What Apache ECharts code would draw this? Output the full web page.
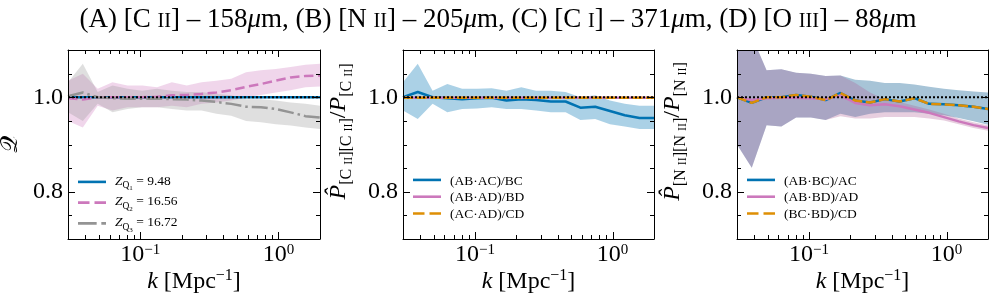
<!DOCTYPE html>
<html>
<head>
<meta charset="utf-8">
<script src="https://cdn.jsdelivr.net/npm/echarts@6/dist/echarts.min.js"></script>
<style>html,body{margin:0;padding:0;background:#fff}#chart{width:996px;height:307px}</style>
</head>
<body>
<div id="chart"></div>
<script>
// ---------------- data ----------------
const kBins = [0.0300, 0.0384, 0.0492, 0.0630, 0.0807, 0.1033, 0.1323, 0.1694, 0.2170,
               0.2779, 0.3558, 0.4557, 0.5836, 0.7473, 0.9570, 1.2255, 1.5694, 2.0000];

// Panel A : Q
const p1Blue   = [1.000,1.000,1.000,1.000,1.000,1.000,1.000,1.000,1.000,1.000,1.000,1.000,1.000,1.000,1.000,1.000,1.000,1.000];
const p1Pink   = [0.998,0.995,1.000,1.000,1.000,1.000,1.001,1.004,1.005,1.007,1.010,1.015,1.022,1.028,1.035,1.042,1.045,1.046];
const p1PinkLo = [0.950,0.936,0.982,0.972,0.979,0.979,0.979,0.982,0.979,0.986,0.989,0.993,1.000,1.005,1.010,1.015,1.021,1.023];
const p1PinkHi = [1.035,1.050,1.018,1.032,1.025,1.025,1.021,1.032,1.025,1.032,1.035,1.039,1.053,1.057,1.060,1.064,1.069,1.071];
const p1Grey   = [1.002,1.010,1.000,0.998,0.997,0.997,0.997,0.996,0.995,0.993,0.990,0.986,0.980,0.979,0.975,0.968,0.960,0.957];
const p1GreyLo = [0.968,0.950,0.986,0.968,0.975,0.979,0.979,0.975,0.972,0.972,0.965,0.961,0.950,0.947,0.943,0.940,0.936,0.933];
const p1GreyHi = [1.032,1.071,1.011,1.025,1.018,1.014,1.018,1.014,1.011,1.011,1.007,1.004,0.996,0.996,0.993,0.989,0.986,0.982];

// Panel B : P[CII][CII]/P[CII]
const p2Blue   = [1.000,1.011,1.000,0.998,0.996,0.998,0.999,0.993,0.996,0.994,0.991,0.991,0.978,0.980,0.971,0.962,0.956,0.956];
const p2BlueLo = [0.972,0.954,0.986,0.968,0.975,0.976,0.979,0.975,0.975,0.972,0.968,0.968,0.952,0.954,0.943,0.938,0.933,0.933];
const p2BlueHi = [1.032,1.071,1.014,1.028,1.018,1.018,1.019,1.014,1.021,1.014,1.014,1.011,1.000,1.004,0.993,0.986,0.982,0.982];
const p2Pink   = [0.999,0.999,0.999,0.999,0.999,0.999,0.999,0.999,0.999,0.999,0.999,0.999,0.999,0.999,0.999,0.999,0.999,0.999];
const p2Orange = [0.999,0.999,0.999,0.999,0.999,0.999,0.999,0.999,0.999,0.999,0.999,0.999,0.999,0.999,0.999,0.999,0.999,0.999];

// Panel C : P[NII][NII]/P[NII]
const p3Blue   = [1.000,0.988,1.000,1.000,1.005,1.001,0.994,1.009,0.993,0.989,0.996,0.991,0.998,0.986,0.985,0.983,0.980,0.975];
const p3BlueLo = [0.900,0.851,0.941,0.938,0.957,0.957,0.952,0.965,0.958,0.965,0.968,0.968,0.968,0.965,0.962,0.956,0.949,0.942];
const p3BlueHi = [1.120,1.130,1.057,1.059,1.052,1.050,1.045,1.046,1.037,1.035,1.030,1.030,1.027,1.022,1.018,1.015,1.012,1.010];
const p3Pink   = [1.000,0.994,0.998,0.999,0.999,0.998,0.996,1.004,0.988,0.983,0.985,0.981,0.974,0.967,0.958,0.949,0.941,0.935];
const p3PinkLo = [0.900,0.851,0.941,0.938,0.957,0.957,0.952,0.960,0.955,0.955,0.958,0.958,0.958,0.955,0.951,0.943,0.935,0.929];
const p3PinkHi = [1.120,1.130,1.057,1.059,1.052,1.050,1.045,1.046,1.030,1.010,0.995,0.990,0.982,0.974,0.965,0.955,0.947,0.941];
const p3Orange = [1.000,0.988,1.000,1.000,1.005,1.001,0.994,1.009,0.993,0.989,0.996,0.991,0.998,0.986,0.985,0.983,0.980,0.975];

const refLine = [1.0, 1.0];

// ticks / labels
const xTickLabels  = [0.1, 1];
const xMinorTicks  = [0.03,0.04,0.05,0.06,0.07,0.08,0.09,0.2,0.3,0.4,0.5,0.6,0.7,0.8,0.9,2];
const yTickLabels  = [0.8, 1.0];
const yMinorTicks  = [0.75,0.85,0.9,0.95,1.05];
const kRange = [0.03, 2.0];
const yRange = [0.7, 1.1];

const legend1 = ['ZQ1','ZQ2','ZQ3'];
const legend1Text = {ZQ1:['1','9.48'], ZQ2:['2','16.56'], ZQ3:['3','16.72']};
const legend2 = ['(AB·AC)/BC','(AB·AD)/BD','(AC·AD)/CD'];
const legend3 = ['(AB·BC)/AC','(AB·BD)/AD','(BC·BD)/CD'];

// ---------------- styling ----------------
const FONT = 'Liberation Serif';
const C_BLUE = '#0173b2', C_PINK = '#cc78bc', C_GREY = '#949494', C_ORANGE = '#de8f05';
function tk(fs, d, B, extra) {
  const p0 = Math.max(0, B + d - 0.84 * fs);
  return Object.assign({fontFamily: FONT, fontSize: fs, fontWeight: 'normal', color: '#000',
                        verticalAlign: 'top', padding: [p0, 0, 0, 0]}, extra || {});
}
const IT = {fontStyle: 'italic'};
const TF = 27;
const titleRich = {t: tk(TF,0,TF), sc: tk(TF*0.75,0,TF), it: tk(TF,0,TF,IT)};
const xLabRich  = {b: tk(24,0,24), sup: tk(15,-8,24)};
const xNameRich = {it: tk(24,0,24,IT), b: tk(24,0,24), sup: tk(16,-9,24)};
const yNameRich = {it: tk(24,0,24,IT), b: tk(24,0,24), sub: tk(16,6,24), subsc: tk(12,6,24), cal: tk(24,0,24),
                   gap: Object.assign(tk(24,0,24), {width: 26})};
const legRich   = {b: tk(13.5,0,13.5), it: tk(13.5,0,13.5,IT), sub: tk(9.5,3.5,13.5), ssub: tk(7,5.5,13.5),
                   sp: Object.assign(tk(13.5,0,13.5), {width: 4})};

const titleText = '{t|(A) [C }{sc|II}{t|] – 158}{it|μ}{t|m, (B) [N }{sc|II}{t|] – 205}{it|μ}{t|m, (C) [C }{sc|I}{t|] – 371}{it|μ}{t|m, (D) [O }{sc|III}{t|] – 88}{it|μ}{t|m}';
const xNameText = '{it|k}{b| [Mpc}{sup|−1}{b|]}';
const yNames = [
  '{cal|𝒬}',
  '{gap| }{it|P̂}{sub|[C }{subsc|II}{sub|][C }{subsc|II}{sub|]}{b|/}{it|P}{sub|[C }{subsc|II}{sub|]}',
  '{gap| }{it|P̂}{sub|[N }{subsc|II}{sub|][N }{subsc|II}{sub|]}{b|/}{it|P}{sub|[N }{subsc|II}{sub|]}'
];

const grids = [
  {left: 68,  top: 50, width: 252, height: 189, outerBoundsMode: 'none', containLabel: false},
  {left: 403, top: 50, width: 251, height: 189, outerBoundsMode: 'none', containLabel: false},
  {left: 737, top: 50, width: 251, height: 189, outerBoundsMode: 'none', containLabel: false}
];

const pairs = arr => kBins.map((k, i) => [k, arr[i]]);

// shaded band between lo and hi, drawn through the axes' scales (api.coord)
function band(id, gi, lo, hi, color) {
  return {
    type: 'custom', name: id, xAxisIndex: 2*gi, yAxisIndex: 2*gi, z: 1, silent: true, clip: true,
    dimensions: ['k', 'lo', 'hi'], encode: {x: 0, y: [1, 2]},
    data: kBins.map((k, i) => [k, lo[i], hi[i]]),
    renderItem: function (params, api) {
      if (params.dataIndexInside !== 0) return;
      const n = params.dataInsideLength || kBins.length;
      const up = [], dn = [];
      for (let i = 0; i < n; i++) {
        up.push(api.coord([api.value(0, i), api.value(2, i)]));
        dn.push(api.coord([api.value(0, i), api.value(1, i)]));
      }
      const cs = params.coordSys;
      return {
        type: 'polygon', shape: {points: up.concat(dn.reverse())}, style: {fill: color},
        clipPath: {type: 'rect', shape: {x: cs.x, y: cs.y, width: cs.width, height: cs.height}}
      };
    }
  };
}
function line(name, gi, arr, color, type, z) {
  return {type: 'line', name: name, xAxisIndex: 2*gi, yAxisIndex: 2*gi, data: pairs(arr), symbol: 'none',
          color: color, itemStyle: {color: color}, silent: true, z: z || 3,
          lineStyle: {color: color, width: 2.5, type: type || 'solid', cap: 'butt'}};
}
function refSeries(gi) {
  return {type: 'line', name: 'ref' + gi, xAxisIndex: 2*gi, yAxisIndex: 2*gi,
          data: [[kBins[0], refLine[0]], [kBins[kBins.length-1], refLine[1]]], symbol: 'none', silent: true, z: 5,
          lineStyle: {color: '#000', width: 2, type: [2, 2], cap: 'butt'}};
}
function tickSeries(gi) {
  const data = [];
  xTickLabels.forEach(v => data.push([v, 1.0, 0]));
  xMinorTicks.forEach(v => data.push([v, 1.0, 1]));
  yTickLabels.forEach(v => data.push([0.1, v, 2]));
  yMinorTicks.forEach(v => data.push([0.1, v, 3]));
  return {
    type: 'custom', name: 'ticks' + gi, xAxisIndex: 2*gi, yAxisIndex: 2*gi, z: 12, silent: true, clip: false,
    dimensions: ['x', 'y', 'kind'], encode: {x: 0, y: 1}, data: data,
    renderItem: function (params, api) {
      const cs = params.coordSys;
      const kind = api.value(2);
      const p = api.coord([api.value(0), api.value(1)]);
      const st = {stroke: '#000', lineWidth: 1};
      const L = (kind === 0 || kind === 2) ? 7 : 4;
      if (kind < 2) {
        const x = Math.round(p[0]) + 0.5;
        return {type: 'group', children: [
          {type: 'line', shape: {x1: x, y1: cs.y + cs.height, x2: x, y2: cs.y + cs.height - L}, style: st},
          {type: 'line', shape: {x1: x, y1: cs.y, x2: x, y2: cs.y + L}, style: st}
        ]};
      }
      const y = Math.round(p[1]) + 0.5;
      return {type: 'group', children: [
        {type: 'line', shape: {x1: cs.x, y1: y, x2: cs.x + L, y2: y}, style: st},
        {type: 'line', shape: {x1: cs.x + cs.width, y1: y, x2: cs.x + cs.width - L, y2: y}, style: st}
      ]};
    }
  };
}

const axisLine = {show: true, onZero: false, lineStyle: {color: '#000', width: 1}};
const xAxes = [], yAxes = [];
grids.forEach((g, gi) => {
  xAxes.push({
    type: 'log', logBase: 10, gridIndex: gi, position: 'bottom', min: kRange[0], max: kRange[1], z: 10,
    axisLine: axisLine, axisTick: {show: false}, splitLine: {show: false}, minorTick: {show: false},
    axisLabel: {
      margin: 0, rich: xLabRich,
      formatter: function (v) {
        const e = Math.log10(v), r = Math.round(e);
        if (Math.abs(e - r) > 1e-6 || !xTickLabels.some(t => Math.abs(t - v) < 1e-9)) return '';
        return '{b|10}{sup|' + (r < 0 ? '−' + (-r) : String(r)) + '}';
      }
    },
    name: xNameText, nameLocation: 'middle', nameGap: 27, nameMoveOverlap: false, nameTextStyle: {rich: xNameRich}
  });
  xAxes.push({
    type: 'log', logBase: 10, gridIndex: gi, position: 'top', min: kRange[0], max: kRange[1], z: 10,
    axisLine: axisLine, axisTick: {show: false}, axisLabel: {show: false}, splitLine: {show: false}
  });
  yAxes.push({
    type: 'value', gridIndex: gi, position: 'left', min: yRange[0], max: yRange[1], interval: 0.1, z: 10,
    axisLine: axisLine, axisTick: {show: false}, splitLine: {show: false},
    axisLabel: {
      margin: 5, fontFamily: FONT, fontSize: 24, color: '#000',
      formatter: v => yTickLabels.some(t => Math.abs(t - v) < 1e-6) ? v.toFixed(1) : ''
    },
    name: yNames[gi], nameLocation: 'middle', nameGap: gi === 0 ? 45 : 48, nameMoveOverlap: false,
    nameTextStyle: {rich: yNameRich}
  });
  yAxes.push({
    type: 'value', gridIndex: gi, position: 'right', min: yRange[0], max: yRange[1], interval: 0.1, z: 10,
    axisLine: axisLine, axisTick: {show: false}, axisLabel: {show: false}, splitLine: {show: false}
  });
});

const ICON_SOLID = 'path://M0 0H28V2.6H0Z';
const ICON_DASH  = 'path://M0 0H11.5V2.6H0Z M16.5 0H28V2.6H16.5Z';
const ICON_DDOT  = 'path://M0 0H18V2.6H0Z M22.5 0H27V2.6H22.5Z';

function legendCfg(left, items, icons, fmt) {
  return {
    left: left, top: 174, orient: 'vertical', selectedMode: false,
    itemWidth: 28, itemHeight: 2.6, itemGap: 2.8, symbolKeepAspect: false, padding: 0,
    data: items.map((n, i) => ({name: n, icon: icons[i]})),
    formatter: fmt, textStyle: {rich: legRich}
  };
}

const series = [
  band('b1p', 0, p1PinkLo, p1PinkHi, 'rgba(204,120,188,0.30)'),
  band('b1g', 0, p1GreyLo, p1GreyHi, 'rgba(148,148,148,0.30)'),
  line('ZQ1', 0, p1Blue, C_BLUE), line('ZQ2', 0, p1Pink, C_PINK, [9.5, 4.5]), line('ZQ3', 0, p1Grey, C_GREY, [16, 4, 2.5, 4]),
  refSeries(0), tickSeries(0),
  band('b2b', 1, p2BlueLo, p2BlueHi, 'rgba(1,115,178,0.33)'),
  line(legend2[0], 1, p2Blue, C_BLUE), line(legend2[1], 1, p2Pink, C_PINK), line(legend2[2], 1, p2Orange, C_ORANGE, [10, 3.5]),
  refSeries(1), tickSeries(1),
  band('b3b', 2, p3BlueLo, p3BlueHi, 'rgb(167,196,215)'),
  band('b3p', 2, p3PinkLo, p3PinkHi, 'rgba(177,93,148,0.30)'),
  line(legend3[0], 2, p3Blue, C_BLUE), line(legend3[1], 2, p3Pink, C_PINK), line(legend3[2], 2, p3Orange, C_ORANGE, [10, 3.5]),
  refSeries(2), tickSeries(2)
];

const option = {
  animation: false,
  backgroundColor: '#fff',
  title: {text: titleText, left: 'center', top: 2, padding: 0, textStyle: {rich: titleRich}},
  grid: grids,
  xAxis: xAxes,
  yAxis: yAxes,
  legend: [
    legendCfg(78, legend1, [ICON_SOLID, ICON_DASH, ICON_DDOT],
      n => '{sp| }{it|Z}{sub|Q}{ssub|' + legend1Text[n][0] + '}{b| = ' + legend1Text[n][1] + '}'),
    legendCfg(413, legend2, [ICON_SOLID, ICON_SOLID, ICON_DASH], n => '{sp| }{b|' + n + '}'),
    legendCfg(747, legend3, [ICON_SOLID, ICON_SOLID, ICON_DASH], n => '{sp| }{b|' + n + '}')
  ],
  series: series
};

const chart = echarts.init(document.getElementById('chart'), null, {renderer: 'canvas'});
chart.setOption(option);
</script>
</body>
</html>
